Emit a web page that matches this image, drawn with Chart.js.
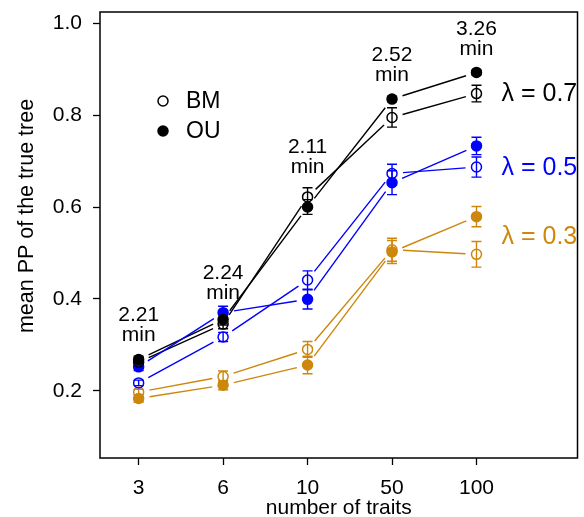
<!DOCTYPE html>
<html>
<head>
<meta charset="utf-8">
<script src="https://cdn.jsdelivr.net/npm/chart.js@4.4.1/dist/chart.umd.min.js"></script>
<style>
  html, body { margin: 0; padding: 0; background: #ffffff; }
  canvas { display: block; }
</style>
</head>
<body>
<canvas id="chart" width="584" height="517"></canvas>
<script>
// Categories on the x axis and the run time annotated above each one
const traitCounts = ['3', '6', '10', '50', '100'];
const runTimes = ['2.21', '2.24', '2.11', '2.52', '3.26'];
const yTickValues = [0.2, 0.4, 0.6, 0.8, 1.0];
const lambdaLabels = ['λ = 0.7', 'λ = 0.5', 'λ = 0.3'];

// Mean posterior probability of the true tree (BM = open, OU = filled) and its error
const bm07 = [0.262, 0.345, 0.622, 0.795, 0.847];
const ou07 = [0.268, 0.355, 0.600, 0.835, 0.893];
const bm07Err = [0.007, 0.010, 0.020, 0.021, 0.018];
const ou07Err = [0.007, 0.012, 0.016, 0.006, 0.005];

const bm05 = [0.217, 0.317, 0.441, 0.673, 0.687];
const ou05 = [0.252, 0.370, 0.399, 0.653, 0.733];
const bm05Err = [0.006, 0.010, 0.020, 0.020, 0.022];
const ou05Err = [0.008, 0.014, 0.021, 0.026, 0.019];

const bm03 = [0.197, 0.231, 0.290, 0.507, 0.497];
const ou03 = [0.183, 0.212, 0.256, 0.502, 0.579];
const bm03Err = [0.006, 0.012, 0.017, 0.025, 0.028];
const ou03Err = [0.008, 0.010, 0.019, 0.025, 0.022];

const FONT = '"Liberation Sans", Arial, Helvetica, sans-serif';
const BLACK = '#000000';
const BLUE = '#0000FF';
const GOLD = '#CD870C';

const groups = [
  { label: lambdaLabels[0], color: BLACK, bm: bm07, bmErr: bm07Err, ou: ou07, ouErr: ou07Err, labelAt: 0.845 },
  { label: lambdaLabels[1], color: BLUE,  bm: bm05, bmErr: bm05Err, ou: ou05, ouErr: ou05Err, labelAt: 0.685 },
  { label: lambdaLabels[2], color: GOLD,  bm: bm03, bmErr: bm03Err, ou: ou03, ouErr: ou03Err, labelAt: 0.535 }
];

function makeDataset(name, values, errs, color, open) {
  return {
    label: name,
    data: values.map((v, i) => ({ x: i + 1, y: v })),
    errors: errs,
    showLine: false,
    pointRadius: 5,
    pointHoverRadius: 5,
    pointBorderWidth: 1.5,
    pointBorderColor: color,
    pointBackgroundColor: open ? 'rgba(0,0,0,0)' : color,
    lineColor: color
  };
}

const datasets = [];
groups.forEach(g => {
  datasets.push(makeDataset(g.label + ' OU', g.ou, g.ouErr, g.color, false));
  datasets.push(makeDataset(g.label + ' BM', g.bm, g.bmErr, g.color, true));
});

// Connecting segments (broken around each point), error bars, frame and annotations
const linesAndErrors = {
  id: 'linesAndErrors',
  beforeDatasetsDraw(chart) {
    const ctx = chart.ctx;
    const yScale = chart.scales.y;
    const gap = 11;
    ctx.save();
    chart.data.datasets.forEach((ds, di) => {
      const pts = chart.getDatasetMeta(di).data;
      ctx.strokeStyle = ds.lineColor;
      ctx.lineWidth = 1.4;
      ctx.beginPath();
      for (let i = 0; i < pts.length - 1; i++) {
        const a = pts[i], b = pts[i + 1];
        const dx = b.x - a.x, dy = b.y - a.y;
        const len = Math.hypot(dx, dy);
        if (len <= 2 * gap) continue;
        const ux = dx / len, uy = dy / len;
        ctx.moveTo(a.x + ux * gap, a.y + uy * gap);
        ctx.lineTo(b.x - ux * gap, b.y - uy * gap);
      }
      ctx.stroke();
      // error bars with flat caps
      ctx.lineWidth = 1.4;
      ctx.beginPath();
      pts.forEach((p, i) => {
        const v = ds.data[i].y, e = ds.errors[i];
        const yTop = yScale.getPixelForValue(v + e);
        const yBot = yScale.getPixelForValue(v - e);
        ctx.moveTo(p.x, yTop); ctx.lineTo(p.x, yBot);
        ctx.moveTo(p.x - 5, yTop); ctx.lineTo(p.x + 5, yTop);
        ctx.moveTo(p.x - 5, yBot); ctx.lineTo(p.x + 5, yBot);
      });
      ctx.stroke();
    });
    ctx.restore();
  },
  afterDatasetsDraw(chart) {
    const ctx = chart.ctx;
    const area = chart.chartArea;
    const xScale = chart.scales.x, yScale = chart.scales.y;
    ctx.save();
    // frame around the plotting region
    ctx.strokeStyle = BLACK;
    ctx.lineWidth = 1.5;
    ctx.strokeRect(area.left, area.top, area.right - area.left, area.bottom - area.top);

    // y axis title
    ctx.save();
    ctx.translate(27, 216);
    ctx.rotate(-Math.PI / 2);
    ctx.fillStyle = BLACK;
    ctx.font = '21.5px ' + FONT;
    ctx.textAlign = 'center';
    ctx.textBaseline = 'middle';
    ctx.fillText('mean PP of the true tree', 0, 0);
    ctx.restore();

    // run time labels above the lambda = 0.7 series
    ctx.fillStyle = BLACK;
    ctx.font = '21px ' + FONT;
    ctx.textAlign = 'center';
    ctx.textBaseline = 'middle';
    traitCounts.forEach((t, i) => {
      const top = Math.max(bm07[i] + bm07Err[i], ou07[i] + ou07Err[i]);
      const x = xScale.getPixelForValue(i + 1);
      const y = yScale.getPixelForValue(top);
      ctx.fillText(runTimes[i], x, y - 41);
      ctx.fillText('min', x, y - 21);
    });

    // lambda labels to the right of the last category
    ctx.font = '25px ' + FONT;
    ctx.textAlign = 'left';
    groups.forEach(g => {
      ctx.fillStyle = g.color;
      ctx.fillText(g.label, xScale.getPixelForValue(5) + 25, yScale.getPixelForValue(g.labelAt));
    });

    // legend
    ctx.font = '23px ' + FONT;
    ctx.fillStyle = BLACK;
    ctx.strokeStyle = BLACK;
    ctx.lineWidth = 1.5;
    ctx.beginPath(); ctx.arc(163, 101, 5, 0, Math.PI * 2); ctx.stroke();
    ctx.beginPath(); ctx.arc(163, 131, 5, 0, Math.PI * 2); ctx.fill(); ctx.stroke();
    ctx.fillText('BM', 186, 102);
    ctx.fillText('OU', 186, 132);
    ctx.restore();
  }
};

new Chart(document.getElementById('chart'), {
  type: 'scatter',
  data: { datasets },
  options: {
    responsive: false,
    devicePixelRatio: 1,
    animation: false,
    events: [],
    layout: { padding: { top: 12, right: 2, left: 0, bottom: 0 } },
    plugins: { legend: { display: false }, tooltip: { enabled: false } },
    scales: {
      x: {
        type: 'linear',
        min: 0.5425,
        max: 6.196,
        afterBuildTicks(scale) { scale.ticks = traitCounts.map((_, i) => ({ value: i + 1 })); },
        afterFit(scale) {
          scale.height = 59;
          scale.paddingLeft = 0; scale.paddingRight = 0;
          scale.paddingTop = 0; scale.paddingBottom = 0;
        },
        border: { display: false },
        grid: { display: true, drawOnChartArea: false, drawTicks: true, tickLength: 7, tickWidth: 1.3, tickColor: BLACK },
        ticks: {
          color: BLACK,
          font: { family: FONT, size: 21 },
          padding: 11,
          maxRotation: 0,
          autoSkip: false,
          callback: (v) => traitCounts[Math.round(v) - 1] ?? ''
        },
        title: {
          display: true,
          text: 'number of traits',
          color: BLACK,
          font: { family: FONT, size: 21, lineHeight: 0.8 },
          padding: { top: 0, bottom: 0 }
        }
      },
      y: {
        type: 'linear',
        min: 0.0535,
        max: 1.0246,
        afterBuildTicks(scale) { scale.ticks = yTickValues.map(v => ({ value: v })); },
        afterFit(scale) {
          scale.width = 100;
          scale.paddingTop = 0; scale.paddingBottom = 0;
          scale.paddingLeft = 0; scale.paddingRight = 0;
        },
        border: { display: false },
        grid: { display: true, drawOnChartArea: false, drawTicks: true, tickLength: 7, tickWidth: 1.3, tickColor: BLACK },
        ticks: {
          color: BLACK,
          font: { family: FONT, size: 21 },
          padding: 11,
          callback: (v) => Number(v).toFixed(1)
        }
      }
    }
  },
  plugins: [linesAndErrors]
});
</script>
</body>
</html>
